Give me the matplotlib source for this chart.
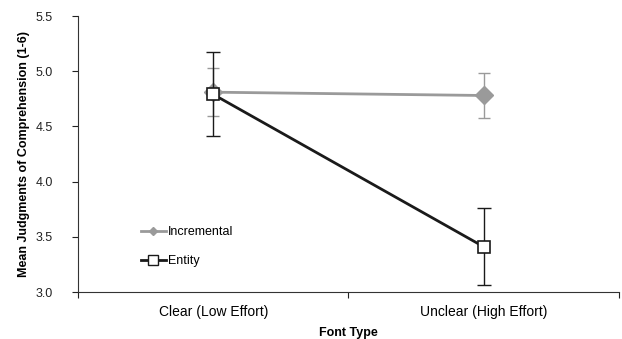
import numpy as np
import matplotlib
matplotlib.use("Agg")
import matplotlib.pyplot as plt
from matplotlib.lines import Line2D

plt.rcParams['font.family'] = ['Liberation Sans', 'DejaVu Sans']

# Data
categories = ["Clear (Low Effort)", "Unclear (High Effort)"]
incremental_means = [4.81, 4.78]
incremental_err = [0.22, 0.20]
entity_means = [4.79, 3.41]
entity_err = [0.38, 0.35]
y_ticks = [3.0, 3.5, 4.0, 4.5, 5.0, 5.5]

GRAY = "#9a9a9a"

fig = plt.figure(figsize=(6.22, 3.39), dpi=100)
ax = fig.add_axes([0.1254, 0.1386, 0.8696, 0.8142])

x = np.arange(len(categories)) + 0.5

# Incremental series (gray, diamonds)
ax.errorbar(x, incremental_means, yerr=incremental_err, fmt="none",
            ecolor=GRAY, elinewidth=1, capsize=4, capthick=1, zorder=2)
ax.plot(x, incremental_means, color=GRAY, lw=2, marker="D", ms=9,
        mfc=GRAY, mec=GRAY, zorder=3)

# Entity series (black, open squares)
ax.errorbar(x, entity_means, yerr=entity_err, fmt="none",
            ecolor="#1a1a1a", elinewidth=1, capsize=5, capthick=1, zorder=4)
ax.plot(x, entity_means, color="#1a1a1a", lw=2, marker="s", ms=8.5,
        mfc="white", mec="#1a1a1a", mew=1.2, zorder=5)

ax.set_xlim(0, len(categories))
ax.set_ylim(3.0, 5.5)
ax.set_yticks(y_ticks)
ax.set_yticklabels([f"{v:.1f}" for v in y_ticks])
ax.set_xticks(np.arange(len(categories) + 1))
ax.set_xticklabels([])
ax.set_xticks(x, minor=True)
ax.set_xticklabels(categories, minor=True)
ax.tick_params(axis="x", which="minor", length=0, pad=9)
ax.tick_params(axis="x", which="major", length=4, direction="out")
ax.tick_params(axis="y", length=4, direction="out", pad=14)
ax.tick_params(labelsize=9, colors="#222222")

for side in ["top", "right"]:
    ax.spines[side].set_visible(False)
for side in ["left", "bottom"]:
    ax.spines[side].set_color("#333333")

ax.set_xlabel("Font Type", fontsize=9, fontweight="bold", labelpad=6)
ax.set_ylabel("Mean Judgments of Comprehension (1-6)", fontsize=9,
              fontweight="bold")
ax.yaxis.set_label_coords(-0.089, 0.5)

handles = [
    Line2D([], [], color=GRAY, lw=2, marker="D", ms=4, mfc=GRAY, mec=GRAY),
    Line2D([], [], color="#1a1a1a", lw=2, marker="s", ms=7, mfc="white",
           mec="#1a1a1a"),
]
ax.legend(handles, ["Incremental", "Entity"], loc="lower left",
          bbox_to_anchor=(0.095, 0.05), frameon=False, fontsize=9,
          handlelength=2.0, handletextpad=0.15, labelspacing=1.35)

fig.savefig("out.png", dpi=100)
